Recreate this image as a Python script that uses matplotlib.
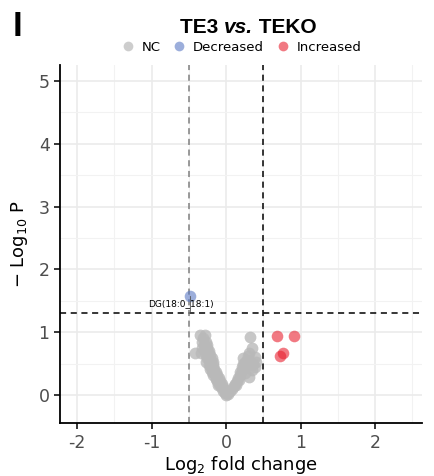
import matplotlib.pyplot as plt
from matplotlib.lines import Line2D
from matplotlib.ticker import MultipleLocator

plt.rcParams["axes.unicode_minus"] = False
plt.rcParams["font.family"] = ["DejaVu Sans"]

# not significant lipids (left arm, then right arm of the "V")
nc_x = [-0.35, -0.28, -0.31, -0.33, -0.27, -0.30, -0.25, -0.32, -0.26, -0.29,
        -0.23, -0.42, -0.34, -0.27, -0.21, -0.25, -0.19, -0.27, -0.22, -0.17,
        -0.23, -0.18, -0.21, -0.16, -0.19, -0.14, -0.17, -0.12, -0.14, -0.10,
        -0.12, -0.08, -0.09, -0.06, -0.07, -0.04, -0.04, -0.02, -0.02, 0.01,
        0.00, -0.24, -0.22, -0.20, -0.16, -0.13, -0.11,
        0.02, 0.05, 0.08, 0.10, 0.12, 0.14, 0.16, 0.18, 0.19, 0.21,
        0.22, 0.23, 0.25, 0.26, 0.28, 0.23, 0.31, 0.345, 0.32, 0.39,
        0.40, 0.39, 0.345, 0.31, 0.27, 0.25, 0.30, 0.36, 0.13, 0.17]
nc_y = [0.95, 0.95, 0.90, 0.85, 0.85, 0.80, 0.80, 0.75, 0.75, 0.70,
        0.70, 0.66, 0.66, 0.63, 0.63, 0.58, 0.58, 0.53, 0.53, 0.53,
        0.47, 0.47, 0.42, 0.42, 0.37, 0.37, 0.32, 0.32, 0.27, 0.27,
        0.22, 0.22, 0.17, 0.17, 0.12, 0.12, 0.07, 0.07, 0.03, 0.03,
        0.00, 0.68, 0.56, 0.45, 0.35, 0.25, 0.15,
        0.02, 0.06, 0.10, 0.14, 0.18, 0.22, 0.27, 0.31, 0.36, 0.40,
        0.45, 0.49, 0.53, 0.44, 0.55, 0.58, 0.66, 0.74, 0.92, 0.61,
        0.53, 0.45, 0.40, 0.29, 0.48, 0.35, 0.62, 0.50, 0.15, 0.24]

dec_x = [-0.49]
dec_y = [1.58]
dec_labels = ["DG(18:0_18:1)"]

inc_x = [0.69, 0.91, 0.72, 0.76]
inc_y = [0.94, 0.94, 0.62, 0.66]

fc_cut = 0.5
p_cut = 1.30

col_nc = "#B9B9B9"
col_dec = "#5A78C4"
col_inc = "#E8202F"

fig = plt.figure(figsize=(4.35, 4.76), dpi=100)
ax = fig.add_axes([0.138, 0.111, 0.832, 0.752])

ax.scatter(nc_x, nc_y, s=72, color=col_nc, alpha=0.8, linewidths=0, zorder=3)
ax.scatter(dec_x, dec_y, s=70, color=col_dec, alpha=0.6, linewidths=0, zorder=3)
ax.scatter(inc_x, inc_y, s=70, color=col_inc, alpha=0.6, linewidths=0, zorder=3)

# label with a short connector
for x, y, lab in zip(dec_x, dec_y, dec_labels):
    ax.plot([x, x], [y, y - 0.24], color="#555555", lw=0.6, zorder=4)
    ax.text(x - 0.12, y - 0.13, lab, fontsize=6.5, ha="center", va="center",
            color="black", zorder=5)

# cut-off lines
ax.axhline(p_cut, color="black", lw=1.1, ls=(0, (4, 3)), zorder=2)
ax.axvline(-fc_cut, color="#7F7F7F", lw=1.1, ls=(0, (4, 3)), zorder=2)
ax.axvline(fc_cut, color="black", lw=1.1, ls=(0, (4, 3)), zorder=2)

ax.set_xlim(-2.23, 2.63)
ax.set_ylim(-0.45, 5.25)
ax.xaxis.set_major_locator(MultipleLocator(1))
ax.xaxis.set_minor_locator(MultipleLocator(0.5))
ax.yaxis.set_major_locator(MultipleLocator(1))
ax.yaxis.set_minor_locator(MultipleLocator(0.5))

ax.grid(True, which="major", color="#EBEBEB", lw=1.2, zorder=0)
ax.grid(True, which="minor", color="#F2F2F2", lw=0.8, zorder=0)
ax.set_axisbelow(True)

for side in ["top", "right"]:
    ax.spines[side].set_visible(False)
for side in ["left", "bottom"]:
    ax.spines[side].set_linewidth(1.3)
ax.tick_params(which="major", length=4, width=1.1, labelsize=12.5,
               labelcolor="#4D4D4D")
ax.tick_params(which="minor", length=0)

ax.set_xlabel(r"Log$_2$ fold change", fontsize=13, labelpad=2)
ax.set_ylabel(r"$-$ Log$_{10}$ P", fontsize=13, labelpad=6)

# title with italic "vs.", laid out piece by piece
renderer = fig.canvas.get_renderer()
parts = [("TE3 ", "normal"), ("vs.", "italic"), (" TEKO", "normal")]
x0 = 180 / 435
for txt, st in parts:
    t = fig.text(x0, 0.943, txt, fontsize=15, fontweight="bold", style=st,
                 family="Liberation Sans", ha="left", va="center")
    bb = t.get_window_extent(renderer)
    x0 += bb.width / fig.bbox.width

handles = [
    Line2D([], [], ls="", marker="o", ms=7, color=col_nc, alpha=0.7, mew=0),
    Line2D([], [], ls="", marker="o", ms=7, color=col_dec, alpha=0.6, mew=0),
    Line2D([], [], ls="", marker="o", ms=7, color=col_inc, alpha=0.6, mew=0),
]
fig.legend(handles, ["NC", "Decreased", "Increased"], loc="center",
           bbox_to_anchor=(0.555, 0.901), ncol=3, frameon=False,
           fontsize=9.5, handletextpad=0.55, columnspacing=0.9,
           handlelength=1.0, borderpad=0)

# panel letter
fig.text(0.028, 0.945, "I", fontsize=25, fontweight="bold",
         family="Liberation Sans", ha="left", va="center")

fig.savefig("out.png", dpi=100)
